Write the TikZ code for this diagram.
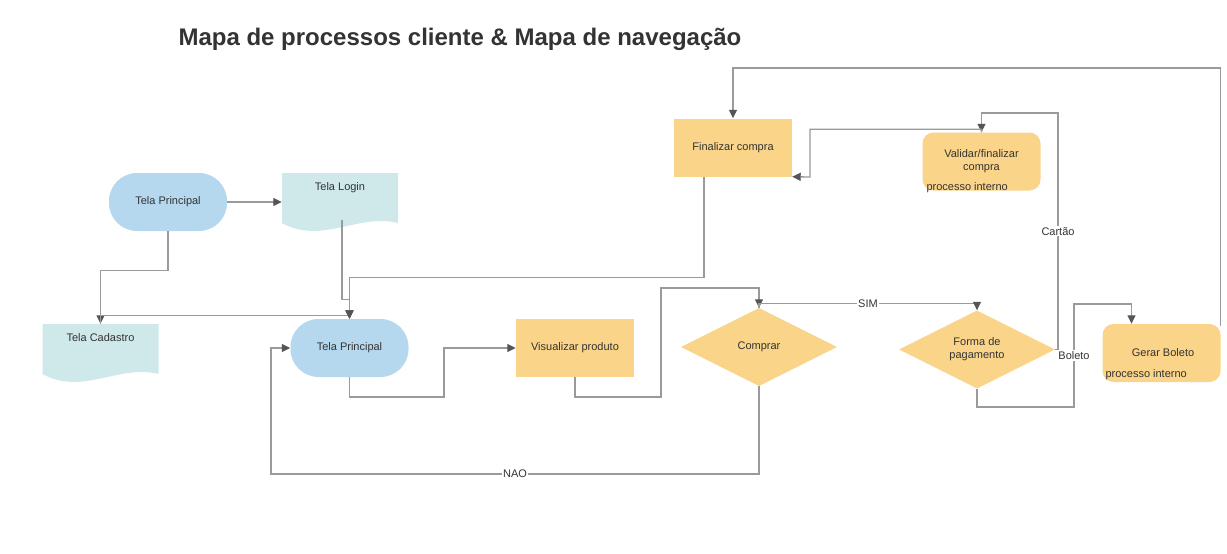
\documentclass[tikz,border=0pt]{standalone}
\usepackage{fontspec}
\setmainfont{Liberation Sans}
\usepackage{xcolor}
\usepackage{tikz}
\usetikzlibrary{shapes,arrows,arrows.meta,positioning,fit,calc}

\definecolor{termblue}{HTML}{B5D8EF}
\definecolor{docgreen}{HTML}{CFE8E9}
\definecolor{procyel}{HTML}{FAD488}
\definecolor{linegray}{HTML}{9A9A9A}
\definecolor{tipgray}{HTML}{555555}
\definecolor{txtgray}{HTML}{333333}

\begin{document}
\begin{tikzpicture}[x=1pt, y=-1pt,
      every node/.style = {text=txtgray, font=\fontsize{11}{13}\selectfont},
      term/.style = {fill=termblue, rounded corners=28pt, minimum width=118pt, minimum height=58pt},
      doc/.style = {minimum width=116pt, minimum height=58pt, inner ysep=4pt, text height=13pt, text depth=37pt,
        path picture={\fill[docgreen] (path picture bounding box.north west) -- (path picture bounding box.north east)
          -- ([yshift=8pt]path picture bounding box.south east)
          .. controls ([xshift=-40pt,yshift=18pt]path picture bounding box.south east) and ([xshift=40pt,yshift=-14pt]path picture bounding box.south west)
          .. ([yshift=8pt]path picture bounding box.south west) -- cycle;}},
      proc/.style = {fill=procyel, minimum width=118pt, minimum height=58pt},
      intern/.style = {fill=procyel, rounded corners=11pt, minimum width=118pt, minimum height=58pt, align=center},
      decision/.style = {diamond, aspect=2, fill=procyel, minimum width=156pt, minimum height=78pt, inner sep=0pt, align=center},
      note/.style = {anchor=west, inner sep=1pt},
      line/.style = {draw=linegray, line width=1.3pt, -{Triangle[length=8.5pt, width=8pt, color=tipgray]}},
      lbl/.style = {fill=white, inner sep=1pt}
    ]
    \fill[white] (0,0) rectangle (1227,554);
    \useasboundingbox (0,0) rectangle (1227,554);

    \node (title) at (460,39) {\fontsize{24}{28}\selectfont\bfseries Mapa de processos cliente \& Mapa de navegação};

    % telas
    \node[term] (tp1) at (168,202) {Tela Principal};
    \node[doc] (tl) at (340,202) {Tela Login};
    \node[doc] (tc) at (100.5,353) {Tela Cadastro};
    \node[term] (tp2) at (349.5,348) {Tela Principal};

    % processos
    \node[proc] (vp) at (575,348) {Visualizar produto};
    \node[decision] (cp) at (759,347) {Comprar};
    \node[decision] (fp) at (977,349.5) {Forma de\\pagamento};
    \node[intern] (gb) at (1161.5,353) {\hspace*{3pt}Gerar Boleto};
    \node[note] (gbnote) at ([xshift=2pt,yshift=8pt]gb.south west) {processo interno};
    \node[proc] (fc) at (733,147.5) {Finalizar compra};
    \node[intern] (va) at (981.5,161.5) {Validar/finalizar\\compra};
    \node[note] (vanote) at ([xshift=3pt,yshift=3pt]va.south west) {processo interno};

    % ligacoes
    \draw[line] (tp1) -- (tl);
    \draw[line] (tp1.south) -- ++(0,39) -| (tc.north);
    \draw[line] ([xshift=2pt,yshift=11pt]tl.south) -- ++(0,79) -| (tp2.north);
    \draw[line] (tc.north) -- ++(0,-8) -| (tp2.north);
    \draw[line] ([xshift=-29pt]fc.south) -- ++(0,101) -| (tp2.north);
    \draw[line] (tp2.south) |- (444,397) |- (vp.west);
    \draw[line] (vp.south) |- (661,397) |- (759,288) -- (cp.north);
    \draw[line] (cp.north) -- ++(0,-4) -| node[lbl, pos=0.25] {SIM} (fp.north);
    \draw[line] (cp.south) |- node[lbl, pos=0.75] {NAO} (271,474) |- (tp2.west);
    \draw[line] (fp.east) -| node[lbl, pos=0.75] {Cartão} (1058,113) -| (va.north);
    \draw[line] (fp.south) |- (1074,407) -- node[lbl, pos=0.5] {Boleto} (1074,304) -| ([xshift=-30pt]gb.north);
    \draw[line] (va.north) -- ++(0,-3) -| (810,177) -- (fc.south east);
    \draw[line] ([yshift=-2pt]gb.north east) |- (733,68) -- (fc.north);
  \end{tikzpicture}
\end{document}
